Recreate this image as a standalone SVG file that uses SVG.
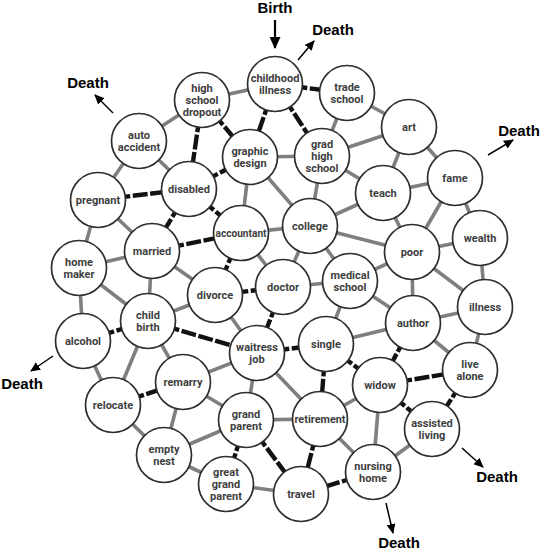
<svg xmlns="http://www.w3.org/2000/svg" width="540" height="551" viewBox="0 0 540 551">
<style>
.g{stroke:#7f7f7f;stroke-width:3.6;stroke-linecap:butt}
.b{stroke:#111;stroke-width:4.4;stroke-dasharray:15 2.5}
.n circle{fill:#fff;stroke:#2e2e2e;stroke-width:1.7}
.n text{font-family:Roboto,"Liberation Sans",sans-serif;font-weight:bold;font-size:11px;fill:#3e3e3e;text-anchor:middle}
.lab{font-family:"Liberation Sans",Arial,sans-serif;font-weight:bold;font-size:15px;fill:#000;text-anchor:middle}
.ar{stroke:#000;stroke-width:1.5;fill:none}
</style>
<defs>
<marker id="ah" markerUnits="userSpaceOnUse" markerWidth="10" markerHeight="9" refX="9" refY="4.5" orient="auto">
<path d="M0,0 L10,4.5 L0,9 z" fill="#000"/>
</marker>
<marker id="ahb" markerUnits="userSpaceOnUse" markerWidth="12" markerHeight="11" refX="11" refY="5.5" orient="auto">
<path d="M0,0 L12,5.5 L0,11 z" fill="#000"/>
</marker>
</defs>
<g id="connectors">
<line class="g" x1="202" y1="100" x2="139" y2="141"/>
<line class="g" x1="139" y1="141" x2="98" y2="200"/>
<line class="g" x1="139" y1="141" x2="189" y2="189"/>
<line class="g" x1="202" y1="100" x2="275" y2="84"/>
<line class="g" x1="98" y1="200" x2="152" y2="251"/>
<line class="g" x1="98" y1="200" x2="79" y2="268"/>
<line class="g" x1="152" y1="251" x2="79" y2="268"/>
<line class="g" x1="250" y1="157" x2="241" y2="233"/>
<line class="g" x1="250" y1="157" x2="322" y2="156"/>
<line class="g" x1="250" y1="157" x2="310" y2="226"/>
<line class="g" x1="322" y1="156" x2="310" y2="226"/>
<line class="g" x1="347" y1="93" x2="322" y2="156"/>
<line class="g" x1="322" y1="156" x2="409" y2="127"/>
<line class="g" x1="322" y1="156" x2="383" y2="193"/>
<line class="g" x1="347" y1="93" x2="409" y2="127"/>
<line class="g" x1="409" y1="127" x2="383" y2="193"/>
<line class="g" x1="409" y1="127" x2="455" y2="178"/>
<line class="g" x1="383" y1="193" x2="455" y2="178"/>
<line class="g" x1="383" y1="193" x2="310" y2="226"/>
<line class="g" x1="383" y1="193" x2="412" y2="252"/>
<line class="g" x1="455" y1="178" x2="412" y2="252"/>
<line class="g" x1="455" y1="178" x2="480" y2="238"/>
<line class="g" x1="310" y1="226" x2="412" y2="252"/>
<line class="g" x1="310" y1="226" x2="350" y2="281"/>
<line class="g" x1="412" y1="252" x2="480" y2="238"/>
<line class="g" x1="480" y1="238" x2="485" y2="307"/>
<line class="g" x1="241" y1="233" x2="310" y2="226"/>
<line class="g" x1="241" y1="233" x2="283" y2="287"/>
<line class="g" x1="310" y1="226" x2="283" y2="287"/>
<line class="g" x1="283" y1="287" x2="350" y2="281"/>
<line class="g" x1="152" y1="251" x2="215" y2="295"/>
<line class="g" x1="152" y1="251" x2="148" y2="321"/>
<line class="g" x1="215" y1="295" x2="148" y2="321"/>
<line class="g" x1="215" y1="295" x2="257" y2="353"/>
<line class="g" x1="148" y1="321" x2="183" y2="382"/>
<line class="g" x1="257" y1="353" x2="183" y2="382"/>
<line class="g" x1="350" y1="281" x2="326" y2="344"/>
<line class="g" x1="350" y1="281" x2="413" y2="323"/>
<line class="g" x1="326" y1="344" x2="413" y2="323"/>
<line class="g" x1="412" y1="252" x2="413" y2="323"/>
<line class="g" x1="412" y1="252" x2="485" y2="307"/>
<line class="g" x1="350" y1="281" x2="412" y2="252"/>
<line class="g" x1="413" y1="323" x2="485" y2="307"/>
<line class="g" x1="413" y1="323" x2="470" y2="370"/>
<line class="g" x1="485" y1="307" x2="470" y2="370"/>
<line class="g" x1="380" y1="385" x2="320" y2="419"/>
<line class="g" x1="380" y1="385" x2="373" y2="472"/>
<line class="g" x1="320" y1="419" x2="373" y2="472"/>
<line class="g" x1="432" y1="429" x2="373" y2="472"/>
<line class="g" x1="257" y1="353" x2="320" y2="419"/>
<line class="g" x1="79" y1="268" x2="83" y2="341"/>
<line class="g" x1="79" y1="268" x2="148" y2="321"/>
<line class="g" x1="83" y1="341" x2="113" y2="405"/>
<line class="g" x1="148" y1="321" x2="113" y2="405"/>
<line class="g" x1="113" y1="405" x2="164" y2="455"/>
<line class="g" x1="183" y1="382" x2="164" y2="455"/>
<line class="g" x1="183" y1="382" x2="246" y2="420"/>
<line class="g" x1="257" y1="353" x2="246" y2="420"/>
<line class="g" x1="164" y1="455" x2="246" y2="420"/>
<line class="g" x1="164" y1="455" x2="226" y2="484"/>
<line class="g" x1="226" y1="484" x2="301" y2="494"/>
<line class="g" x1="246" y1="420" x2="320" y2="419"/>
<line class="b" x1="202" y1="100" x2="189" y2="189"/>
<line class="b" x1="202" y1="100" x2="250" y2="157"/>
<line class="b" x1="98" y1="200" x2="189" y2="189"/>
<line class="b" x1="189" y1="189" x2="250" y2="157"/>
<line class="b" x1="189" y1="189" x2="152" y2="251"/>
<line class="b" x1="189" y1="189" x2="241" y2="233"/>
<line class="b" x1="152" y1="251" x2="241" y2="233"/>
<line class="b" x1="275" y1="84" x2="250" y2="157"/>
<line class="b" x1="275" y1="84" x2="322" y2="156"/>
<line class="b" x1="275" y1="84" x2="347" y2="93"/>
<line class="b" x1="241" y1="233" x2="215" y2="295"/>
<line class="b" x1="283" y1="287" x2="215" y2="295"/>
<line class="b" x1="283" y1="287" x2="257" y2="353"/>
<line class="b" x1="148" y1="321" x2="257" y2="353"/>
<line class="b" x1="257" y1="353" x2="326" y2="344"/>
<line class="b" x1="326" y1="344" x2="380" y2="385"/>
<line class="b" x1="326" y1="344" x2="320" y2="419"/>
<line class="b" x1="413" y1="323" x2="380" y2="385"/>
<line class="b" x1="380" y1="385" x2="470" y2="370"/>
<line class="b" x1="380" y1="385" x2="432" y2="429"/>
<line class="b" x1="470" y1="370" x2="432" y2="429"/>
<line class="b" x1="373" y1="472" x2="301" y2="494"/>
<line class="b" x1="320" y1="419" x2="301" y2="494"/>
<line class="b" x1="83" y1="341" x2="148" y2="321"/>
<line class="b" x1="113" y1="405" x2="183" y2="382"/>
<line class="b" x1="246" y1="420" x2="226" y2="484"/>
<line class="b" x1="246" y1="420" x2="301" y2="494"/>
</g>
<g id="arrows">
<line x1="275" y1="20" x2="275" y2="48" stroke="#000" stroke-width="2.2" marker-end="url(#ahb)"/>
<line class="ar" x1="298" y1="60" x2="314" y2="41" marker-end="url(#ah)"/>
<line class="ar" x1="113" y1="113" x2="95" y2="95" marker-end="url(#ah)"/>
<line class="ar" x1="488" y1="155" x2="513" y2="140" marker-end="url(#ah)"/>
<line class="ar" x1="53" y1="356" x2="31" y2="371" marker-end="url(#ah)"/>
<line class="ar" x1="462" y1="448" x2="483" y2="467" marker-end="url(#ah)"/>
<line class="ar" x1="386" y1="503" x2="393" y2="533" marker-end="url(#ah)"/>
</g>
<g id="labels">
<text class="lab" x="275" y="13">Birth</text>
<text class="lab" x="333" y="35">Death</text>
<text class="lab" x="88" y="88">Death</text>
<text class="lab" x="519" y="136">Death</text>
<text class="lab" x="22" y="389">Death</text>
<text class="lab" x="497" y="482">Death</text>
<text class="lab" x="399" y="548">Death</text>
</g>
<g id="n-childhood" class="n"><circle cx="275" cy="84" r="27.5"/><text x="275" y="82">childhood</text><text x="275" y="94">illness</text></g>
<g id="n-trade" class="n"><circle cx="347" cy="93" r="27.5"/><text x="347" y="91">trade</text><text x="347" y="103">school</text></g>
<g id="n-hsd" class="n"><circle cx="202" cy="100" r="27.5"/><text x="202" y="92">high</text><text x="202" y="104">school</text><text x="202" y="116">dropout</text></g>
<g id="n-auto" class="n"><circle cx="139" cy="141" r="27.5"/><text x="139" y="139">auto</text><text x="139" y="151">accident</text></g>
<g id="n-art" class="n"><circle cx="409" cy="127" r="27.5"/><text x="409" y="131">art</text></g>
<g id="n-graphic" class="n"><circle cx="250" cy="157" r="27.5"/><text x="250" y="155">graphic</text><text x="250" y="167">design</text></g>
<g id="n-grad" class="n"><circle cx="322" cy="156" r="27.5"/><text x="322" y="148">grad</text><text x="322" y="160">high</text><text x="322" y="172">school</text></g>
<g id="n-disabled" class="n"><circle cx="189" cy="189" r="27.5"/><text x="189" y="193">disabled</text></g>
<g id="n-pregnant" class="n"><circle cx="98" cy="200" r="27.5"/><text x="98" y="204">pregnant</text></g>
<g id="n-teach" class="n"><circle cx="383" cy="193" r="27.5"/><text x="383" y="197">teach</text></g>
<g id="n-fame" class="n"><circle cx="455" cy="178" r="27.5"/><text x="455" y="182">fame</text></g>
<g id="n-accountant" class="n"><circle cx="241" cy="233" r="27.5"/><text x="241" y="237" textLength="51" lengthAdjust="spacingAndGlyphs">accountant</text></g>
<g id="n-college" class="n"><circle cx="310" cy="226" r="27.5"/><text x="310" y="230">college</text></g>
<g id="n-wealth" class="n"><circle cx="480" cy="238" r="27.5"/><text x="480" y="242">wealth</text></g>
<g id="n-married" class="n"><circle cx="152" cy="251" r="27.5"/><text x="152" y="255">married</text></g>
<g id="n-homemaker" class="n"><circle cx="79" cy="268" r="27.5"/><text x="79" y="266">home</text><text x="79" y="278">maker</text></g>
<g id="n-poor" class="n"><circle cx="412" cy="252" r="27.5"/><text x="412" y="256">poor</text></g>
<g id="n-divorce" class="n"><circle cx="215" cy="295" r="27.5"/><text x="215" y="299">divorce</text></g>
<g id="n-doctor" class="n"><circle cx="283" cy="287" r="27.5"/><text x="283" y="291">doctor</text></g>
<g id="n-medical" class="n"><circle cx="350" cy="281" r="27.5"/><text x="350" y="279">medical</text><text x="350" y="291">school</text></g>
<g id="n-illness" class="n"><circle cx="485" cy="307" r="27.5"/><text x="485" y="311">illness</text></g>
<g id="n-author" class="n"><circle cx="413" cy="323" r="27.5"/><text x="413" y="327">author</text></g>
<g id="n-alcohol" class="n"><circle cx="83" cy="341" r="27.5"/><text x="83" y="345">alcohol</text></g>
<g id="n-childbirth" class="n"><circle cx="148" cy="321" r="27.5"/><text x="148" y="319">child</text><text x="148" y="331">birth</text></g>
<g id="n-waitress" class="n"><circle cx="257" cy="353" r="27.5"/><text x="257" y="351">waitress</text><text x="257" y="363">job</text></g>
<g id="n-single" class="n"><circle cx="326" cy="344" r="27.5"/><text x="326" y="348">single</text></g>
<g id="n-livealone" class="n"><circle cx="470" cy="370" r="27.5"/><text x="470" y="368">live</text><text x="470" y="380">alone</text></g>
<g id="n-widow" class="n"><circle cx="380" cy="385" r="27.5"/><text x="380" y="389">widow</text></g>
<g id="n-remarry" class="n"><circle cx="183" cy="382" r="27.5"/><text x="183" y="386">remarry</text></g>
<g id="n-relocate" class="n"><circle cx="113" cy="405" r="27.5"/><text x="113" y="409">relocate</text></g>
<g id="n-grandparent" class="n"><circle cx="246" cy="420" r="27.5"/><text x="246" y="418">grand</text><text x="246" y="430">parent</text></g>
<g id="n-retirement" class="n"><circle cx="320" cy="419" r="27.5"/><text x="320" y="423" textLength="51" lengthAdjust="spacingAndGlyphs">retirement</text></g>
<g id="n-assisted" class="n"><circle cx="432" cy="429" r="27.5"/><text x="432" y="427">assisted</text><text x="432" y="439">living</text></g>
<g id="n-emptynest" class="n"><circle cx="164" cy="455" r="27.5"/><text x="164" y="453">empty</text><text x="164" y="465">nest</text></g>
<g id="n-greatgrand" class="n"><circle cx="226" cy="484" r="27.5"/><text x="226" y="476">great</text><text x="226" y="488">grand</text><text x="226" y="500">parent</text></g>
<g id="n-travel" class="n"><circle cx="301" cy="494" r="27.5"/><text x="301" y="498">travel</text></g>
<g id="n-nursing" class="n"><circle cx="373" cy="472" r="27.5"/><text x="373" y="470">nursing</text><text x="373" y="482">home</text></g>
</svg>
